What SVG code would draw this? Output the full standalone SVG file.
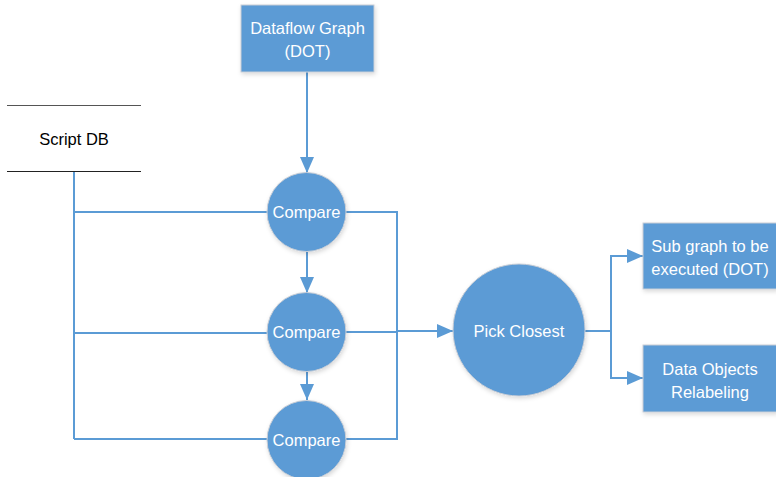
<svg xmlns="http://www.w3.org/2000/svg" width="776" height="477" viewBox="0 0 776 477">
<style>
.shape{fill:#5B9BD5;stroke:#C9CED6;stroke-width:1;filter:url(#sh)}
.lbl{fill:#FFFFFF;font-family:"Liberation Sans",Arial,sans-serif;font-size:16.5px;text-anchor:middle}
.dark{fill:#000000;font-family:"Liberation Sans",Arial,sans-serif;font-size:16.5px;text-anchor:middle}
.conn{fill:none;stroke:#5B9BD5;stroke-width:2}
</style>
<defs>
<filter id="sh" x="-20%" y="-20%" width="140%" height="140%">
<feDropShadow dx="1" dy="2" stdDeviation="2" flood-color="#000000" flood-opacity="0.15"/>
</filter>
<marker id="arrL" markerWidth="16" markerHeight="14" refX="16" refY="7" orient="auto" markerUnits="userSpaceOnUse" viewBox="0 0 16 14">
<path d="M0,0 L16,7 L0,14 Z" fill="#5B9BD5"/>
</marker>
</defs>
<rect width="776" height="477" fill="#FFFFFF"/>
<g id="connectors">
<path class="conn" d="M307,72 V173" marker-end="url(#arrL)"/>
<path class="conn" d="M307,252 V293" marker-end="url(#arrL)"/>
<path class="conn" d="M307,372 V400" marker-end="url(#arrL)"/>
<path class="conn" d="M74,172 V439"/>
<path class="conn" d="M74,212 H267"/>
<path class="conn" d="M74,333 H267"/>
<path class="conn" d="M74,439 H267"/>
<path class="conn" d="M346,212 H397 V439 H346"/>
<path class="conn" d="M346,332 H397"/>
<path class="conn" d="M397,331 H453" marker-end="url(#arrL)"/>
<path class="conn" d="M585,331 H611"/>
<path class="conn" d="M611,379 V256 H643" marker-end="url(#arrL)"/>
<path class="conn" d="M611,378 H643" marker-end="url(#arrL)"/>
</g>
<g id="dataflow">
<rect class="shape" x="241" y="5" width="133" height="67"/>
<text class="lbl" x="307.5" y="34">Dataflow Graph</text>
<text class="lbl" x="307.5" y="57">(DOT)</text>
</g>
<g id="scriptdb">
<line x1="7" y1="105.5" x2="141" y2="105.5" stroke="#555555" stroke-width="1.2"/>
<line x1="7" y1="171.5" x2="141" y2="171.5" stroke="#222222" stroke-width="1.2"/>
<text class="dark" x="74" y="145">Script DB</text>
</g>
<g id="compare1">
<circle class="shape" cx="306.5" cy="212" r="39.5"/>
<text class="lbl" x="306.5" y="218">Compare</text>
</g>
<g id="compare2">
<circle class="shape" cx="306.5" cy="332" r="39.5"/>
<text class="lbl" x="306.5" y="338">Compare</text>
</g>
<g id="compare3">
<circle class="shape" cx="306.5" cy="440" r="39.5"/>
<text class="lbl" x="306.5" y="446">Compare</text>
</g>
<g id="pickclosest">
<circle class="shape" cx="519" cy="330" r="66"/>
<text class="lbl" x="519" y="337">Pick Closest</text>
</g>
<g id="subgraph">
<rect class="shape" x="643" y="223" width="134" height="66"/>
<text class="lbl" x="710" y="252">Sub graph to be</text>
<text class="lbl" x="710" y="275">executed (DOT)</text>
</g>
<g id="relabel">
<rect class="shape" x="643" y="345" width="134" height="67"/>
<text class="lbl" x="710" y="375">Data Objects</text>
<text class="lbl" x="710" y="398">Relabeling</text>
</g>
</svg>
